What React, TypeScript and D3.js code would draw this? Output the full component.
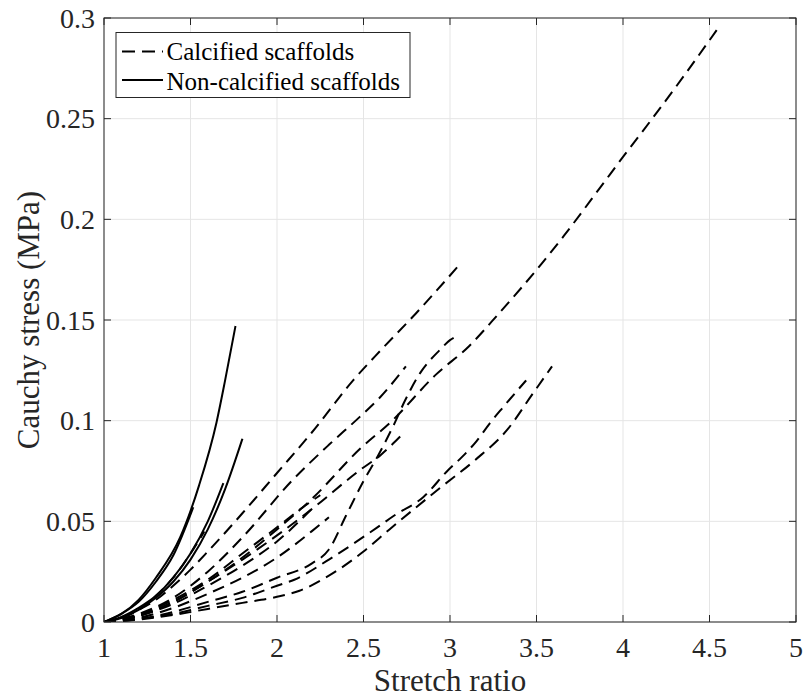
import React from "react";
import * as d3 from "d3";

// ---- Data (stretch ratio, Cauchy stress in MPa) ----
const xTicks = [1, 1.5, 2, 2.5, 3, 3.5, 4, 4.5, 5];
const yTicks = [0, 0.05, 0.1, 0.15, 0.2, 0.25, 0.3];
const legendLabels = ["Calcified scaffolds", "Non-calcified scaffolds"];

// Calcified scaffolds (dashed)
const calcA: [number, number][] = [[1,0],[1.1,0.002],[1.2,0.006],[1.3,0.011],[1.4,0.018],[1.5,0.026],[1.6,0.035],[1.8,0.054],[2.0,0.074],[2.2,0.094],[2.44,0.12],[2.6,0.135],[2.8,0.153],[3.05,0.177]];
const calcB: [number, number][] = [[1,0],[1.2,0.003],[1.4,0.01],[1.6,0.02],[1.8,0.032],[2.0,0.046],[2.2,0.061],[2.48,0.086],[2.66,0.0995],[2.92,0.123],[3.11,0.137],[3.28,0.153],[3.53,0.178],[3.66,0.192],[3.87,0.216],[4.0,0.231],[4.16,0.249],[4.35,0.271],[4.55,0.295]];
const calcC: [number, number][] = [[1,0],[1.2,0.004],[1.4,0.012],[1.6,0.025],[1.8,0.042],[2.09,0.0705],[2.3,0.088],[2.48,0.102],[2.6,0.112],[2.745,0.127]];
const calcD: [number, number][] = [[1,0],[1.2,0.0015],[1.4,0.005],[1.6,0.01],[1.8,0.015],[2.0,0.022],[2.2,0.029],[2.3,0.036],[2.4,0.053],[2.5,0.07],[2.58,0.082],[2.67,0.097],[2.74,0.11],[2.83,0.124],[2.94,0.135],[3.0,0.14],[3.04,0.142]];
const calcE: [number, number][] = [[1,0],[1.2,0.003],[1.4,0.01],[1.6,0.02],[1.8,0.031],[2.0,0.043],[2.2,0.056],[2.48,0.0755],[2.6,0.083],[2.715,0.0924]];
const calcF: [number, number][] = [[1,0],[1.2,0.0015],[1.4,0.004],[1.6,0.008],[1.8,0.012],[2.0,0.018],[2.1,0.021],[2.3,0.031],[2.58,0.047],[2.68,0.053],[2.845,0.062],[2.99,0.0755],[3.07,0.082],[3.155,0.09],[3.23,0.0987],[3.31,0.107],[3.44,0.12]];
const calcG: [number, number][] = [[1,0],[1.2,0.0012],[1.4,0.0035],[1.6,0.0065],[1.8,0.0095],[2.0,0.0125],[2.13,0.0155],[2.3,0.023],[2.5,0.035],[2.65,0.046],[2.94,0.0664],[3.146,0.0805],[3.33,0.0954],[3.48,0.1136],[3.59,0.127]];
const calcH: [number, number][] = [[1,0],[1.2,0.003],[1.4,0.009],[1.6,0.018],[1.8,0.028],[2.0,0.04],[2.21,0.057]];
const calcI: [number, number][] = [[1,0],[1.2,0.0035],[1.4,0.011],[1.6,0.021],[1.8,0.034],[2.0,0.047],[2.15,0.057],[2.25,0.063]];
const calcJ: [number, number][] = [[1,0],[1.1,0.002],[1.2,0.006],[1.3,0.013],[1.4,0.022],[1.5,0.034],[1.58,0.045]];
const calcK: [number, number][] = [[1,0],[1.2,0.002],[1.4,0.007],[1.6,0.014],[1.8,0.022],[2.0,0.032],[2.2,0.045],[2.3,0.052]];

// Non-calcified scaffolds (solid)
const nonS1: [number, number][] = [[1,0],[1.1,0.004],[1.2,0.011],[1.3,0.022],[1.44,0.042],[1.55,0.068],[1.65,0.099],[1.7,0.12],[1.76,0.147]];
const nonS2: [number, number][] = [[1,0],[1.1,0.002],[1.2,0.006],[1.3,0.012],[1.4,0.02],[1.5,0.031],[1.6,0.046],[1.7,0.066],[1.8,0.091]];
const nonS3: [number, number][] = [[1,0],[1.1,0.0025],[1.2,0.007],[1.3,0.013],[1.4,0.022],[1.5,0.034],[1.6,0.05],[1.69,0.069]];
const nonS4: [number, number][] = [[1,0],[1.1,0.004],[1.2,0.01],[1.3,0.02],[1.4,0.033],[1.516,0.057]];

const calcifiedSeries = [calcA, calcB, calcC, calcD, calcE, calcF, calcG, calcH, calcI, calcJ, calcK];
const nonCalcifiedSeries = [nonS1, nonS2, nonS3, nonS4];

export default function App() {
  const W = 803, H = 698;
  const L = 104, R = 796, T = 18, B = 622;
  const x = d3.scaleLinear().domain([1, 5]).range([L, R]);
  const y = d3.scaleLinear().domain([0, 0.3]).range([B, T]);
  const line = d3.line<[number, number]>().x(d => x(d[0])).y(d => y(d[1])).curve(d3.curveMonotoneX);
  const axisColor = "#262626";
  const gridColor = "#e5e5e5";
  const font = "'Liberation Serif', 'Times New Roman', 'DejaVu Serif', serif";
  const tf = { fontFamily: font };
  const tickLen = 7;
  const fmt = (v: number) => String(+v.toFixed(2));

  return (
    <svg width={W} height={H} style={{ position: "absolute", left: 0, top: 0, background: "#fff" }}>
      <rect x={0} y={0} width={W} height={H} fill="#fff" />
      <defs>
        <clipPath id="plotclip"><rect x={L} y={T} width={R - L} height={B - T} /></clipPath>
      </defs>
      {/* grid */}
      {xTicks.map(t => (
        <line key={"gx" + t} x1={x(t)} x2={x(t)} y1={T} y2={B} stroke={gridColor} strokeWidth={1} />
      ))}
      {yTicks.map(t => (
        <line key={"gy" + t} x1={L} x2={R} y1={y(t)} y2={y(t)} stroke={gridColor} strokeWidth={1} />
      ))}
      {/* data */}
      <g clipPath="url(#plotclip)" fill="none" stroke="#000" strokeWidth={2} strokeLinejoin="round">
        {calcifiedSeries.map((s, i) => (
          <path key={"c" + i} d={line(s) || ""} strokeDasharray="12,7" />
        ))}
        {nonCalcifiedSeries.map((s, i) => (
          <path key={"n" + i} d={line(s) || ""} />
        ))}
      </g>
      {/* box & ticks */}
      <rect x={L} y={T} width={R - L} height={B - T} fill="none" stroke={axisColor} strokeWidth={1} />
      {xTicks.map(t => (
        <g key={"tx" + t}>
          <line x1={x(t)} x2={x(t)} y1={B} y2={B - tickLen} stroke={axisColor} />
          <line x1={x(t)} x2={x(t)} y1={T} y2={T + tickLen} stroke={axisColor} />
          <text x={x(t)} y={657} textAnchor="middle" fontSize={28} fill={axisColor} style={tf}>{fmt(t)}</text>
        </g>
      ))}
      {yTicks.map(t => (
        <g key={"ty" + t}>
          <line x1={L} x2={L + tickLen} y1={y(t)} y2={y(t)} stroke={axisColor} />
          <line x1={R} x2={R - tickLen} y1={y(t)} y2={y(t)} stroke={axisColor} />
          <text x={95} y={y(t) + 9.5} textAnchor="end" fontSize={28} fill={axisColor} style={tf}>{fmt(t)}</text>
        </g>
      ))}
      <text x={(L + R) / 2} y={691} textAnchor="middle" fontSize={31} fill={axisColor} style={tf}>Stretch ratio</text>
      <text transform={`translate(38.5, ${(T + B) / 2}) rotate(-90)`} textAnchor="middle" fontSize={31} fill={axisColor} style={tf}>Cauchy stress (MPa)</text>
      {/* legend */}
      <rect x={116} y={32.5} width={294} height={65} fill="#fff" stroke={axisColor} strokeWidth={1} />
      <line x1={122} x2={163} y1={51.5} y2={51.5} stroke="#000" strokeWidth={2} strokeDasharray="13,7" />
      <line x1={122} x2={163} y1={80} y2={80} stroke="#000" strokeWidth={2} />
      <text x={166.5} y={60} fontSize={25} fill="#000" style={tf}>{legendLabels[0]}</text>
      <text x={166.5} y={89.5} fontSize={25} fill="#000" style={tf}>{legendLabels[1]}</text>
    </svg>
  );
}
